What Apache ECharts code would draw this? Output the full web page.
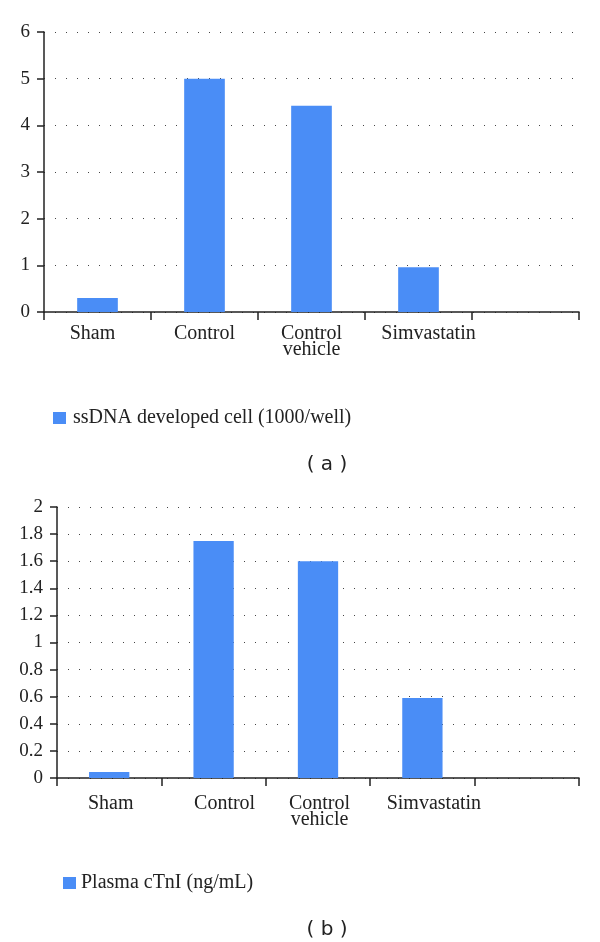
<!DOCTYPE html>
<html>
<head>
<meta charset="utf-8">
<script src="https://cdn.jsdelivr.net/npm/echarts@6/dist/echarts.min.js"></script>
<style>
html,body{margin:0;padding:0;background:#fff;}
#chart{width:600px;height:942px;}
</style>
</head>
<body>
<div id="chart"></div>
<script>
// ---- data ----
const categories = ['Sham', 'Control', 'Control\nvehicle', 'Simvastatin', ''];
const seriesNameA = 'ssDNA developed cell (1000/well)';
const valuesA = [0.3, 5.0, 4.42, 0.96, null];
const seriesNameB = 'Plasma cTnI (ng/mL)';
const valuesB = [0.045, 1.75, 1.6, 0.59, null];
const captionA = '( a )';
const captionB = '( b )';
const yMaxA = 6, yStepA = 1;
const yMaxB = 2, yStepB = 0.2;

// ---- style ----
const BLUE = '#4A8DF6';
const SERIF = '"Liberation Serif", "Times New Roman", serif';
const AXIS = '#222';
// label padding (left, right) per category slot, mimicking the original label placement
const labelPadA = [[0, 10], [0, 0], [0, 0], [20, 0], [0, 0]];
const labelPadB = [[3, 0], [22, 0], [3, 0], [23, 0], [0, 0]];

function xAxisFor(gridIndex, margin, pads) {
  return {
    type: 'category', gridIndex: gridIndex,
    data: categories.map((c, i) => ({ value: c, textStyle: { padding: [0, pads[i][1], 0, pads[i][0]] } })),
    axisLine: { lineStyle: { color: AXIS, width: 1.5 } },
    axisTick: { show: true, length: 8, alignWithLabel: false, lineStyle: { color: AXIS, width: 1.5 } },
    axisLabel: { color: '#222', fontFamily: SERIF, fontSize: 20, lineHeight: 16, margin: margin, interval: 0 },
    splitLine: { show: false }
  };
}
function yAxisFor(gridIndex, max, step) {
  return {
    type: 'value', gridIndex: gridIndex, min: 0, max: max, interval: step,
    axisLine: { show: true, lineStyle: { color: AXIS, width: 1.5 } },
    axisTick: { show: true, length: 7, lineStyle: { color: AXIS, width: 1.5 } },
    axisLabel: { color: '#222', fontFamily: SERIF, fontSize: 19, margin: 14 },
    splitLine: { show: true, lineStyle: { color: '#444', width: 1, type: [1, 10] } }
  };
}

const chart = echarts.init(document.getElementById('chart'), null, { renderer: 'canvas' });
chart.setOption({
  animation: false,
  backgroundColor: '#fff',
  grid: [
    { left: 44, right: 21, top: 32, height: 280 },
    { left: 57, right: 21, top: 507, height: 271 }
  ],
  xAxis: [xAxisFor(0, 14, labelPadA), xAxisFor(1, 18, labelPadB)],
  yAxis: [yAxisFor(0, yMaxA, yStepA), yAxisFor(1, yMaxB, yStepB)],
  legend: [
    { data: [seriesNameA], left: 48, top: 403, itemWidth: 13, itemHeight: 12, icon: 'rect',
      itemStyle: { color: BLUE },
      textStyle: { fontFamily: SERIF, fontSize: 20, color: '#222', padding: [0, 0, 0, 2] } },
    { data: [seriesNameB], left: 58, top: 868, itemWidth: 13, itemHeight: 12, icon: 'rect',
      itemStyle: { color: BLUE },
      textStyle: { fontFamily: SERIF, fontSize: 20, color: '#222', padding: [0, 0, 0, 0] } }
  ],
  title: [
    { text: captionA, left: 322, top: 450, textAlign: 'center',
      textStyle: { fontFamily: '"DejaVu Sans", sans-serif', fontSize: 20, fontWeight: 'normal', color: '#222' } },
    { text: captionB, left: 322, top: 915, textAlign: 'center',
      textStyle: { fontFamily: '"DejaVu Sans", sans-serif', fontSize: 20, fontWeight: 'normal', color: '#222' } }
  ],
  series: [
    { name: seriesNameA, type: 'bar', xAxisIndex: 0, yAxisIndex: 0, data: valuesA,
      barWidth: '38%', itemStyle: { color: BLUE } },
    { name: seriesNameB, type: 'bar', xAxisIndex: 1, yAxisIndex: 1, data: valuesB,
      barWidth: '38.6%', itemStyle: { color: BLUE } }
  ]
});
</script>
</body>
</html>
